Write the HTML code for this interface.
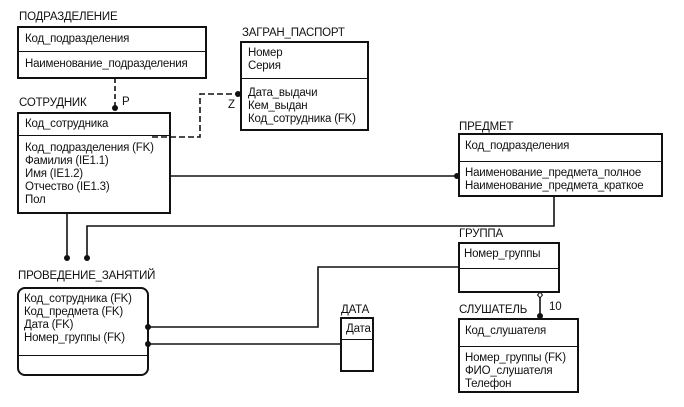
<!DOCTYPE html>
<html><head><meta charset="utf-8"><style>
body{margin:0;background:#fff;width:684px;height:407px;overflow:hidden;position:relative;font-family:"Liberation Sans",sans-serif;font-size:11px;color:#111}
.t{position:absolute;font-size:11.5px;letter-spacing:-0.2px;white-space:nowrap;line-height:13px}
.b{position:absolute;border:2px solid #111;box-sizing:border-box}
.d{position:absolute;left:0;right:0;border-top:1.5px solid #111}
</style></head><body>
<svg width="684" height="407" style="position:absolute;left:0;top:0">
<g stroke="#111" stroke-width="1.6" fill="none">
<path d="M115 78V108" stroke-dasharray="5,3"/>
<path d="M152 137H200V94H238" stroke-dasharray="6,3"/>
<path d="M170 176H457"/>
<path d="M554 196V226H87V258"/>
<path d="M67 213V258"/>
<path d="M458 267H318V327H148"/>
<path d="M148 344H340"/>
<path d="M540 297V316"/>
</g>
<g fill="#111"><circle cx="115" cy="108" r="3"/><circle cx="238" cy="94" r="3"/><circle cx="457" cy="176" r="3"/><circle cx="87" cy="258" r="3"/><circle cx="67" cy="258" r="3"/><circle cx="148" cy="327" r="3"/><circle cx="148" cy="344" r="3"/><circle cx="540" cy="316" r="3"/></g>
<path d="M540 292L542.5 295L540 298L537.5 295Z" fill="#fff" stroke="#111" stroke-width="1"/>
</svg>
<div class="t" style="left:19px;top:11px">ПОДРАЗДЕЛЕНИЕ</div>
<div class="b" style="left:17px;top:26px;width:190px;height:53px"><div class="d" style="top:23px"></div>
<div class="t" style="left:6px;top:5px">Код_подразделения</div><div class="t" style="left:6px;top:30px">Наименование_подразделения</div></div>
<div class="t" style="left:242px;top:27px">ЗАГРАН_ПАСПОРТ</div>
<div class="b" style="left:240px;top:41px;width:129px;height:90px"><div class="d" style="top:35px"></div>
<div class="t" style="left:6px;top:4px">Номер<br>Серия</div><div class="t" style="left:6px;top:44px">Дата_выдачи<br>Кем_выдан<br>Код_сотрудника (FK)</div></div>
<div class="t" style="left:122px;top:96px">P</div><div class="t" style="left:228px;top:99px">Z</div>
<div class="t" style="left:19px;top:97px">СОТРУДНИК</div>
<div class="b" style="left:17px;top:112px;width:154px;height:102px"><div class="d" style="top:21px"></div>
<div class="t" style="left:6px;top:4px">Код_сотрудника</div><div class="t" style="left:6px;top:28px">Код_подразделения (FK)<br>Фамилия (IE1.1)<br>Имя (IE1.2)<br>Отчество (IE1.3)<br>Пол</div></div>
<div class="t" style="left:459px;top:121px">ПРЕДМЕТ</div>
<div class="b" style="left:458px;top:133px;width:205px;height:64px"><div class="d" style="top:26px"></div>
<div class="t" style="left:5px;top:5px">Код_подразделения</div><div class="t" style="left:5px;top:32px">Наименование_предмета_полное<br>Наименование_предмета_краткое</div></div>
<div class="t" style="left:459px;top:228px">ГРУППА</div>
<div class="b" style="left:458px;top:242px;width:102px;height:51px"><div class="d" style="top:24px"></div>
<div class="t" style="left:4px;top:4px">Номер_группы</div></div>
<div class="t" style="left:18px;top:270px">ПРОВЕДЕНИЕ_ЗАНЯТИЙ</div>
<div class="b" style="left:17px;top:287px;width:132px;height:89px;border-radius:8px"><div class="d" style="top:66px"></div>
<div class="t" style="left:5px;top:4px">Код_сотрудника (FK)<br>Код_предмета (FK)<br>Дата (FK)<br>Номер_группы (FK)</div></div>
<div class="t" style="left:341px;top:304px">ДАТА</div>
<div class="b" style="left:340px;top:317px;width:34px;height:55px"><div class="d" style="top:20px"></div>
<div class="t" style="left:4px;top:4px">Дата</div></div>
<div class="t" style="left:459px;top:304px">СЛУШАТЕЛЬ</div><div class="t" style="left:549px;top:301px">10</div>
<div class="b" style="left:458px;top:318px;width:121px;height:75px"><div class="d" style="top:26px"></div>
<div class="t" style="left:5px;top:5px">Код_слушателя</div><div class="t" style="left:5px;top:32px">Номер_группы (FK)<br>ФИО_слушателя<br>Телефон</div></div>
</body></html>
